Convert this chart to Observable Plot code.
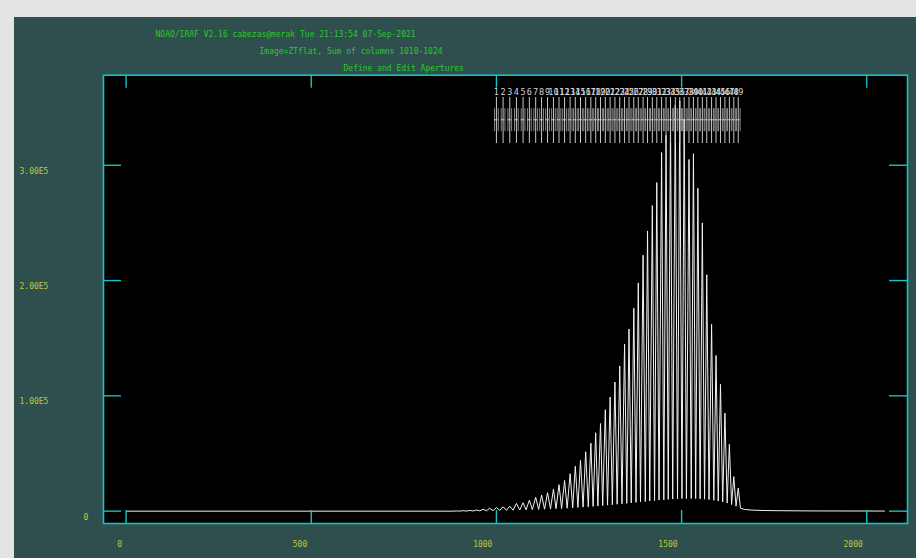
<!DOCTYPE html>
<html><head><meta charset="utf-8">
<script src="https://cdn.jsdelivr.net/npm/d3@7"></script>
<script src="https://cdn.jsdelivr.net/npm/@observablehq/plot@0.6"></script>
<style>
html,body{margin:0;padding:0;background:#e4e4e4;width:916px;height:558px;overflow:hidden;}
#wrap{position:absolute;left:14px;top:17px;width:902px;height:541px;background:#2f4f4f;}
svg{display:block;}
</style></head><body><div id="wrap"></div>
<script>
// ---- text ----
const titleLines = [
  "NOAO/IRAF V2.16 cabezas@merak Tue 21:13:54 07-Sep-2021",
  "Image=ZTflat, Sum of columns 1010-1024",
  "Define and Edit Apertures"
];
const xTicks = [0, 500, 1000, 1500, 2000];
const xTickLabels = ["0", "500", "1000", "1500", "2000"];
const yTicks = [0, 100000, 200000, 300000];
const yTickLabels = ["0", "1.00E5", "2.00E5", "3.00E5"];

// ---- apertures (centres, in column units) ----
const apertureCenters = [1000,1018,1036,1054,1072,1089,1106,1122,1138,1154,1169,1184,1199,1213,1227,1241,1255,1268,1281,1294,1307,1320,1333,1346,1358,1371,1383,1396,1408,1421,1433,1446,1458,1470,1483,1495,1507,1520,1532,1544,1556,1568,1581,1593,1605,1617,1629,1641,1653];
const apertureLower = -5, apertureUpper = 5;

// ---- spectrum: order peaks ----
const peakX = [892,910,928,946,964,982, 1000,1018,1036,1054,1072,1089,1106,1122,1138,1154,1169,1184,1199,1213,1227,1241,1255,1268,1281,1294,1307,1320,1333,1346,1358,1371,1383,1396,1408,1421,1433,1446,1458,1470,1483,1495,1507,1520,1532,1544,1556,1568,1581,1593,1605,1617,1629,1641,1653];
const peakY = [200,400,600,1000,1700,2500, 3200,3800,4300,6700,7300,9500,12000,14000,16000,19000,23000,26600,32500,39000,44000,51500,59000,68000,76000,88000,99000,112000,126000,145000,158000,176000,198000,222000,243000,265000,285000,311000,326000,341000,352000,356000,340000,305000,310000,280000,250000,205000,162000,135000,110000,85000,58000,30000,20000];
// ---- spectrum: inter-order valleys ----
const valleyX = [883,901,919,937,955,973,991,1009,1027,1045,1063,1080,1097,1114,1130,1146,1161,1176,1191,1206,1220,1234,1248,1261,1274,1287,1300,1313,1326,1339,1352,1364,1377,1389,1402,1414,1427,1439,1452,1464,1476,1489,1501,1513,1526,1538,1550,1562,1574,1587,1599,1611,1623,1635,1647,1659];
const valleyY = [0,50,100,150,250,350,450,600,700,850,1000,1150,1300,1500,1700,1900,2100,2300,2600,2900,3200,3500,3800,4100,4400,4800,5200,5600,6000,6400,6800,7200,7600,8000,8400,8800,9200,9600,9900,10200,10500,10700,10900,11000,11000,10900,10700,10400,10000,9500,8800,8000,7000,5800,4300,2500];
// ---- spectrum: flat parts outside the orders ----
const flatX = [1, 1670, 1690, 1720, 1760, 1850, 2048];
const flatY = [0, 1500, 900, 600, 400, 200, 100];

const spectrum = [
  ...peakX.map((x, i) => ({x, y: peakY[i]})),
  ...valleyX.map((x, i) => ({x, y: valleyY[i]})),
  ...flatX.map((x, i) => ({x, y: flatY[i]}))
].sort((a, b) => a.x - b.x);

const apertures = apertureCenters.map((c, i) => ({c, label: String(i + 1)}));
const edges = apertureCenters.flatMap(c => [c + apertureLower, c + apertureUpper]);
const xT = xTicks.map((v, i) => ({v, label: xTickLabels[i]}));
const yT = yTicks.map((v, i) => ({v, label: yTickLabels[i]}));

const W = 902, H = 541, mL = 89, mR = 9, mT = 57.7, mB = 35;
const plotH = H - mT - mB, plotW = W - mL - mR;
const cyan = "#16c2c2", labelCol = "#bcc83c", titleCol = "#2ac82a";

const chart = Plot.plot({
  width: W, height: H,
  marginLeft: mL, marginRight: mR, marginTop: mT, marginBottom: mB,
  x: {domain: [-61, 2110], axis: null},
  y: {domain: [-10700, 378100], axis: null},
  style: {background: "transparent", fontFamily: "'DejaVu Sans Mono', 'Liberation Mono', monospace", fontSize: "8px", overflow: "visible"},
  marks: [
    Plot.frame({fill: "black", stroke: null}),
    Plot.line(spectrum, {x: "x", y: "y", stroke: "#f2f2f2", strokeWidth: 1}),
    // aperture graphics
    Plot.ruleX(edges, {x: d => d, insetTop: 33.5, insetBottom: plotH - 56.5, stroke: "#8c8c8c", strokeWidth: 1}),
    Plot.barX(apertures, {x1: d => d.c + apertureLower, x2: d => d.c + apertureUpper, insetTop: 44.6, insetBottom: plotH - 45.6, fill: "#d0d0d0"}),
    Plot.ruleX(apertures, {x: "c", insetTop: 22.3, insetBottom: plotH - 68.3, stroke: "#c8c8c8", strokeWidth: 1}),
    Plot.text(apertures, {x: "c", text: "label", frameAnchor: "top", dy: 14, fill: "#d4d4d4", fontSize: 8.5}),
    // inward ticks
    Plot.ruleX(xT, {x: "v", insetTop: plotH - 13, stroke: cyan, strokeWidth: 1.4}),
    Plot.ruleX(xT, {x: "v", insetBottom: plotH - 13, stroke: cyan, strokeWidth: 1.4}),
    Plot.ruleY(yT, {y: "v", insetRight: plotW - 18, stroke: cyan, strokeWidth: 1.4}),
    Plot.ruleY(yT, {y: "v", insetLeft: plotW - 18, stroke: cyan, strokeWidth: 1.4}),
    Plot.frame({stroke: cyan, strokeWidth: 1.6}),
    // tick labels
    Plot.text(xT, {x: "v", text: "label", frameAnchor: "bottom", dy: 23, dx: -4, textAnchor: "end", fill: labelCol}),
    Plot.text(yT.filter(d => d.v !== 0), {y: "v", text: "label", frameAnchor: "left", dx: -84, dy: 6, textAnchor: "start", fill: labelCol}),
    Plot.text(yT.filter(d => d.v === 0), {y: "v", text: "label", frameAnchor: "left", dx: -20, dy: 6, textAnchor: "start", fill: labelCol}),
    // title lines
    Plot.text([titleLines[0]], {text: d => d, frameAnchor: "top-left", dx: 52, dy: -43.7, textAnchor: "start", fill: titleCol}),
    Plot.text([titleLines[1]], {text: d => d, frameAnchor: "top-left", dx: 156, dy: -26.7, textAnchor: "start", fill: titleCol}),
    Plot.text([titleLines[2]], {text: d => d, frameAnchor: "top-left", dx: 240, dy: -9.7, textAnchor: "start", fill: titleCol})
  ]
});
document.getElementById("wrap").appendChild(chart);
</script>
</body></html>
